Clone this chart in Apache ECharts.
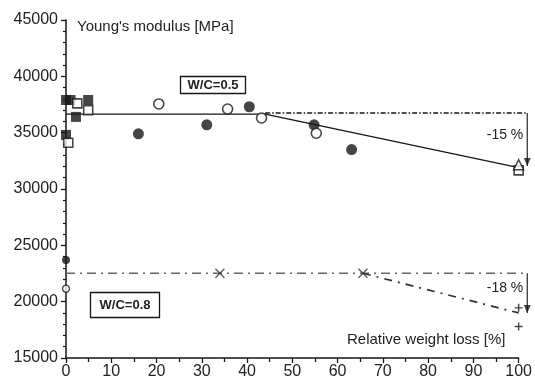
<!DOCTYPE html>
<html>
<head>
<meta charset="utf-8">
<script src="https://cdn.jsdelivr.net/npm/echarts@6/dist/echarts.min.js"></script>
<style>
  html, body { margin: 0; padding: 0; background: #fff; }
  #chart { width: 535px; height: 385px; }
</style>
</head>
<body>
<div id="chart"></div>
<script>
// Young's modulus [MPa] against relative weight loss [%]

// W/C = 0.5 specimens
const squaresFilled = [[0, 37900], [1, 37900], [2.2, 36400], [4.9, 37900], [0, 34800]];
const squaresOpen = [[2.5, 37600], [4.9, 37000], [0.5, 34100], [100, 31650]];
const circlesFilled = [[16, 34900], [31.1, 35700], [40.5, 37300], [54.8, 35700], [63.1, 33500]];
const circlesOpen = [[20.5, 37550], [35.7, 37100], [43.2, 36300], [55.3, 34950]];
const trianglesOpen = [[100, 32150]];
const fitHigh = [[0, 36650], [44, 36650], [100, 31900]];
const refHigh = [[44, 36750], [101.9, 36750]];
const dropHigh = [[101.9, 36750], [101.9, 32050]];

// W/C = 0.8 specimens
const circlesFilledLow = [[0, 23700]];
const circlesOpenLow = [[0, 21150]];
const crossesLow = [[34, 22520], [65.6, 22520]];
const plusesLow = [[100, 19450], [100, 17800]];
const refLow = [[0, 22520], [101.9, 22520]];
const fitLow = [[65.6, 22520], [100, 19000]];
const dropLow = [[101.9, 22520], [101.9, 19000]];

const xTicks = [0, 10, 20, 30, 40, 50, 60, 70, 80, 90, 100];
const yTicks = [15000, 20000, 25000, 30000, 35000, 40000, 45000];

const ink = '#161616';
const font = '"Liberation Sans", Arial, sans-serif';

const chart = echarts.init(document.getElementById('chart'), null, { renderer: 'canvas' });

function openStyle(w) {
  return { color: '#fff', borderColor: ink, borderWidth: w || 1.4 };
}
const downArrow = 'path://M0,0 L10,0 L5,10 Z';
const crossPath = 'path://M0,0 L10,10 M10,0 L0,10';
const plusPath = 'path://M5,0 L5,10 M0,5 L10,5';

const labels = [
  { type: 'text', left: 77, top: 19, style: { text: "Young's modulus [MPa]", font: '15px ' + font, fill: '#222' } },
  { type: 'text', left: 347, top: 332, style: { text: 'Relative weight loss [%]', font: '15px ' + font, fill: '#222' } },
  { type: 'rect', z: 10, shape: { x: 180.5, y: 76.5, width: 65, height: 17 }, style: { fill: '#fff', stroke: ink, lineWidth: 1.3 } },
  { type: 'text', z: 11, x: 213, y: 85, style: { text: 'W/C=0.5', font: 'bold 13px ' + font, fill: '#222', align: 'center', verticalAlign: 'middle' } },
  { type: 'rect', z: 10, shape: { x: 90.5, y: 292.5, width: 69, height: 25 }, style: { fill: '#fff', stroke: ink, lineWidth: 1.3 } },
  { type: 'text', z: 11, x: 125, y: 305, style: { text: 'W/C=0.8', font: 'bold 13px ' + font, fill: '#222', align: 'center', verticalAlign: 'middle' } },
  { type: 'text', x: 505, y: 135, style: { text: '-15 %', font: '14px ' + font, fill: '#222', align: 'center', verticalAlign: 'middle' } },
  { type: 'text', x: 505, y: 288, style: { text: '-18 %', font: '14px ' + font, fill: '#222', align: 'center', verticalAlign: 'middle' } }
];

chart.setOption({
  animation: false,
  backgroundColor: '#fff',
  grid: { left: 66, right: 16, top: 20, bottom: 27, containLabel: false },
  xAxis: {
    type: 'value', min: xTicks[0], max: xTicks[xTicks.length - 1], interval: 10,
    axisLine: { lineStyle: { color: ink, width: 1.5 } },
    axisTick: { show: true, length: 5, lineStyle: { color: ink, width: 1.3 } },
    minorTick: { show: true, splitNumber: 2, length: 4, lineStyle: { color: ink, width: 1.3 } },
    axisLabel: { fontFamily: font, fontSize: 16, color: '#222', margin: 6 },
    splitLine: { show: false }
  },
  yAxis: {
    type: 'value', min: yTicks[0], max: yTicks[yTicks.length - 1], interval: 5000,
    axisLine: { show: true, lineStyle: { color: ink, width: 1.5 } },
    axisTick: { show: true, length: 5, lineStyle: { color: ink, width: 1.3 } },
    minorTick: { show: true, splitNumber: 5, length: 3, lineStyle: { color: ink, width: 1.2 } },
    axisLabel: { fontFamily: font, fontSize: 16, color: '#222', margin: 8, formatter: v => String(v) },
    splitLine: { show: false }
  },
  graphic: labels,
  series: [
    { type: 'line', data: fitHigh, symbol: 'none', z: 2,
      lineStyle: { color: ink, width: 1.3 } },
    { type: 'line', data: fitLow, symbol: 'none', z: 2,
      lineStyle: { color: '#333', width: 1.7, type: [8, 6, 2, 6] } },
    { type: 'scatter', data: [dropHigh[1], dropLow[1]], symbol: downArrow, symbolSize: [7, 8],
      symbolOffset: [0, -4], clip: false, z: 4, itemStyle: { color: ink } },
    { type: 'scatter', data: squaresFilled, symbol: 'rect', symbolSize: 10, z: 5, itemStyle: { color: ink } },
    { type: 'scatter', data: squaresOpen, symbol: 'rect', symbolSize: 9, z: 6, itemStyle: openStyle(1.6) },
    { type: 'scatter', data: circlesFilled, symbol: 'circle', symbolSize: 11, z: 5, itemStyle: { color: ink } },
    { type: 'scatter', data: circlesOpen, symbol: 'circle', symbolSize: 10, z: 6, itemStyle: openStyle(1.6) },
    { type: 'scatter', data: trianglesOpen, symbol: 'triangle', symbolSize: 10, z: 6, itemStyle: openStyle(1.5) },
    { type: 'scatter', data: circlesFilledLow, symbol: 'circle', symbolSize: 8, clip: false, z: 6, itemStyle: { color: ink } },
    { type: 'scatter', data: circlesOpenLow, symbol: 'circle', symbolSize: 7, clip: false, z: 6, itemStyle: openStyle(1.3) },
    { type: 'scatter', data: crossesLow, symbol: crossPath, symbolSize: 9, z: 6,
      itemStyle: { color: 'none', borderColor: '#333', borderWidth: 1.4 } },
    { type: 'scatter', data: plusesLow, symbol: plusPath, symbolSize: 8, z: 6,
      itemStyle: { color: 'none', borderColor: ink, borderWidth: 1.4 } }
  ]
});

// Reference levels and drop markers reach past x = 100, so they are drawn
// as graphic polylines placed through the grid's own coordinate conversion.
function toPx(points) {
  return points.map(p => chart.convertToPixel({ gridIndex: 0 }, p));
}
const guideLines = [
  { pts: refHigh, stroke: ink, lineWidth: 1.6, lineDash: [5, 2, 1.5, 2] },
  { pts: dropHigh, stroke: ink, lineWidth: 1.1, lineDash: null },
  { pts: refLow, stroke: '#666', lineWidth: 1.5, lineDash: [9, 5, 2, 5] },
  { pts: dropLow, stroke: ink, lineWidth: 1.1, lineDash: null }
].map(g => ({
  type: 'polyline', z: 1, silent: true,
  shape: { points: toPx(g.pts) },
  style: { stroke: g.stroke, lineWidth: g.lineWidth, lineDash: g.lineDash, fill: null }
}));

chart.setOption({ graphic: labels.concat(guideLines) });
</script>
</body>
</html>
